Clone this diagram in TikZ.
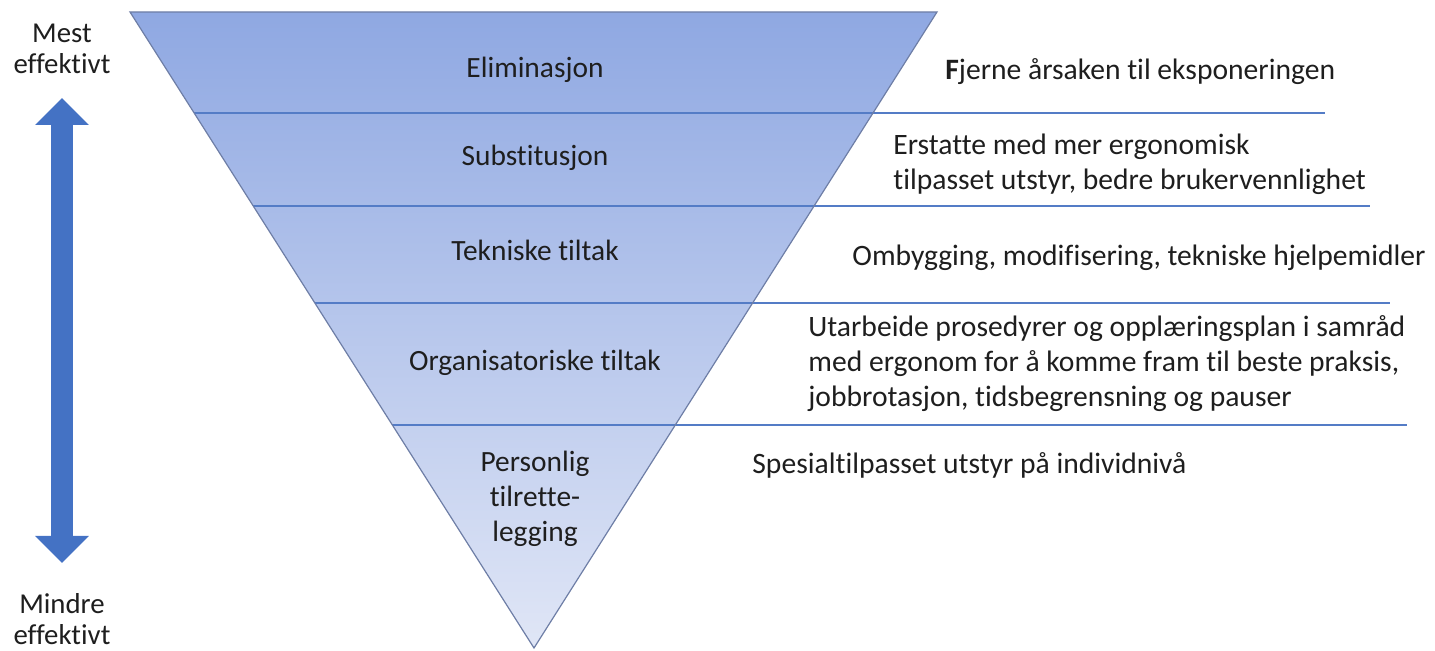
\documentclass[tikz,border=0pt]{standalone}
\usepackage{fontspec}
\setmainfont[Ligatures=NoCommon]{Carlito}
\usetikzlibrary{arrows.meta}
\usetikzlibrary{calc}
\definecolor{bandtop}{RGB}{143,168,226}
\definecolor{bandbot}{RGB}{224,230,246}
\definecolor{edgegray}{RGB}{110,126,166}
\definecolor{sepblue}{RGB}{84,124,198}
\definecolor{arrblue}{RGB}{68,114,196}
\definecolor{txtgray}{RGB}{30,30,30}

\tikzset{
	lvl/.style={font=\fontsize{14.7}{17.5}\selectfont, text=txtgray, align=center, inner sep=0pt},
	desc/.style={font=\fontsize{14.8}{17.5}\selectfont, text=txtgray, align=left, anchor=west, inner sep=0pt},
	side/.style={font=\fontsize{14.4}{15.5}\selectfont, text=txtgray, align=center, inner sep=0pt},
	sep/.style={draw=sepblue, line width=0.8pt},
	updown/.style={draw=arrblue, line width=11pt,
		{Triangle[width=26pt,length=13.5pt]}-{Triangle[width=26pt,length=13.5pt]}},
}

\begin{document}
\begin{tikzpicture}[x=0.5pt, y=-0.5pt, >=Latex]
	\useasboundingbox (0,0) rectangle (1435,651);
	% funnel
	\coordinate (tl) at (130,12);
	\coordinate (tr) at (937,12);
	\coordinate (tip) at (534,648);
	\shade[top color=bandtop, bottom color=bandbot] (tl) -- (tr) -- (tip) -- cycle;
	% separators between the levels
	\coordinate (s1) at ($(tl)!0.159!(tip)$);
	\coordinate (s2) at ($(tl)!0.305!(tip)$);
	\coordinate (s3) at ($(tl)!0.4575!(tip)$);
	\coordinate (s4) at ($(tl)!0.649!(tip)$);
	\coordinate (e1) at (1325,0);
	\coordinate (e2) at (1370,0);
	\coordinate (e3) at (1390,0);
	\coordinate (e4) at (1407,0);
	\draw[sep] (s1) -- (s1 -| e1);
	\draw[sep] (s2) -- (s2 -| e2);
	\draw[sep] (s3) -- (s3 -| e3);
	\draw[sep] (s4) -- (s4 -| e4);
	\draw[edgegray, line width=0.6pt] (tl) -- (tr) -- (tip) -- cycle;
	% levels
	\node[lvl] (elim) at (535,70) {Eliminasjon};
	\node[lvl] (subst) at (535,158) {Substitusjon};
	\node[lvl] (tekn) at (535,250) {Tekniske tiltak};
	\node[lvl] (org) at (535,363) {Organisatoriske tiltak};
	\node[lvl] (pers) at (535,499) {Personlig\\tilrette-\\legging};
	% what each level means
	\node[desc] (fjerne) at (945,72) {\textbf{F}jerne årsaken til eksponeringen};
	\node[desc] (erstatte) at (893,164) {Erstatte med mer ergonomisk\\tilpasset utstyr, bedre brukervennlighet};
	\node[desc] (ombygg) at (852,258) {Ombygging, modifisering, tekniske hjelpemidler};
	\node[desc] (utarb) at (808,364) {Utarbeide prosedyrer og opplæringsplan i samråd\\med ergonom for å komme fram til beste praksis,\\jobbrotasjon, tidsbegrensning og pauser};
	\node[desc] (spes) at (752,465) {Spesialtilpasset utstyr på individnivå};
	% effect scale
	\node[side] (mest) at (62,49) {Mest\\effektivt};
	\node[side] (mindre) at (62,619) {Mindre\\effektivt};
	\coordinate (up) at (62,98);
	\coordinate (down) at (62,563);
	\draw[updown] (up) -- (down);
\end{tikzpicture}
\end{document}
